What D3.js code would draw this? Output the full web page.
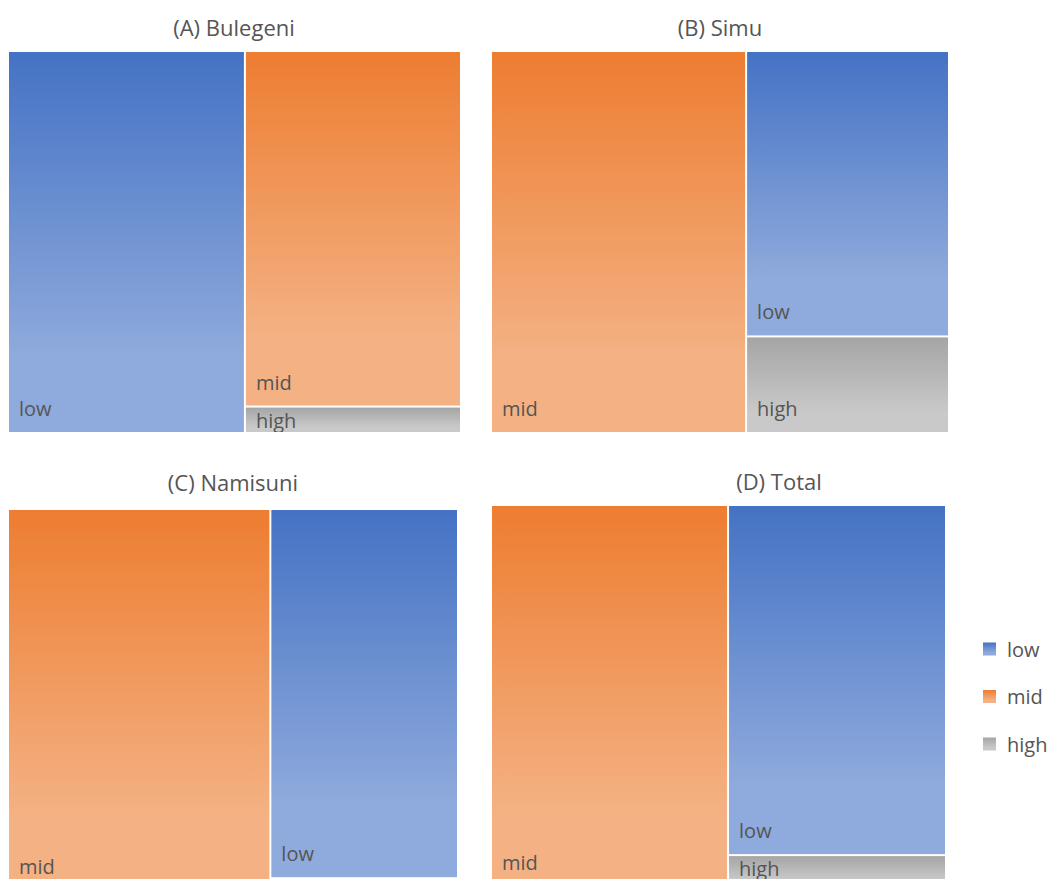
<!DOCTYPE html>
<html>
<head>
<meta charset="utf-8">
<script src="https://cdn.jsdelivr.net/npm/d3@7"></script>
<style>
  html, body { margin: 0; padding: 0; background: #fff; overflow: hidden; }
  svg { display: block; }
  text { font-family: "Open Sans", "Noto Sans", sans-serif; fill: #555555; }
</style>
</head>
<body>
<svg id="chart" width="1052" height="879"></svg>
<script>
// ---- data (percent share of each class) ----
const categories = ["low", "mid", "high"];
const panelTitles = ["(A) Bulegeni", "(B) Simu", "(C) Namisuni", "(D) Total"];
const bulegeni = [52.3, 44.4, 3.3];
const simu     = [33.1, 55.7, 11.2];
const namisuni = [40.3, 58.3, 1.4];
const total    = [43.9, 52.1, 4.0];
const panelValues = [bulegeni, simu, namisuni, total];

// ---- styling / layout ----
const colorTop    = { low: "#4472C4", mid: "#ED7D31", high: "#A5A5A5" };
const colorBottom = { low: "#8FAADC", mid: "#F4B183", high: "#C9C9C9" };
const panels = [
  { x: 9,   y: 52,  w: 451, h: 380, tx: 234, ty: 27 },
  { x: 492, y: 52,  w: 456, h: 380, tx: 720, ty: 27 },
  { x: 9,   y: 510, w: 448, h: 380, tx: 233, ty: 482 },
  { x: 492, y: 506, w: 453, h: 380, tx: 779, ty: 481 }
];

const svg = d3.select("#chart");
const defs = svg.append("defs");
categories.forEach(c => {
  const g = defs.append("linearGradient").attr("id", "grad-" + c)
    .attr("x1", 0).attr("y1", 0).attr("x2", 0).attr("y2", 1);
  g.append("stop").attr("offset", 0).attr("stop-color", colorTop[c]);
  g.append("stop").attr("offset", 0.8).attr("stop-color", colorBottom[c]);
  g.append("stop").attr("offset", 1).attr("stop-color", colorBottom[c]);
});

// tiling: largest item takes a full-height column, the rest are stacked in the remaining column
function columnThenStack(parent, x0, y0, x1, y1) {
  const kids = parent.children;
  if (!kids || !kids.length) return;
  const tot = parent.value;
  const first = kids[0];
  const xm = x0 + (x1 - x0) * first.value / tot;
  first.x0 = x0; first.x1 = xm; first.y0 = y0; first.y1 = y1;
  const rest = tot - first.value;
  let y = y0;
  kids.slice(1).forEach(k => {
    k.x0 = xm; k.x1 = x1; k.y0 = y;
    y += (y1 - y0) * k.value / rest;
    k.y1 = y;
  });
}

panels.forEach((p, i) => {
  const vals = panelValues[i];
  const data = { name: panelTitles[i], children: categories.map((c, j) => ({ name: c, value: vals[j] })) };
  const root = d3.hierarchy(data).sum(d => d.value || 0).sort((a, b) => b.value - a.value);
  d3.treemap().size([p.w, p.h]).paddingInner(2).tile(columnThenStack)(root);

  const g = svg.append("g").attr("transform", `translate(${p.x},${p.y})`);
  svg.append("text").attr("x", p.tx).attr("y", p.ty)
    .attr("text-anchor", "middle").attr("dominant-baseline", "central")
    .style("font-size", "22px").text(panelTitles[i]);

  root.leaves().forEach((leaf, j) => {
    const cid = `clip-${i}-${j}`;
    defs.append("clipPath").attr("id", cid).append("rect")
      .attr("x", p.x + leaf.x0).attr("y", p.y + leaf.y0)
      .attr("width", leaf.x1 - leaf.x0).attr("height", leaf.y1 - leaf.y0);
    g.append("rect")
      .attr("x", leaf.x0).attr("y", leaf.y0)
      .attr("width", leaf.x1 - leaf.x0).attr("height", leaf.y1 - leaf.y0)
      .attr("fill", `url(#grad-${leaf.data.name})`);
    const ty = Math.max(leaf.y1 - 16, leaf.y0 + 20);
    svg.append("text").attr("clip-path", `url(#${cid})`)
      .attr("x", p.x + leaf.x0 + 10).attr("y", p.y + ty)
      .style("font-size", "20px").text(leaf.data.name);
  });
});

// legend
const legendY = d3.scalePoint().domain(categories).range([649, 744]);
const lg = svg.append("g");
categories.forEach(c => {
  lg.append("rect").attr("x", 983).attr("y", legendY(c) - 6.5).attr("width", 13).attr("height", 13)
    .attr("fill", `url(#grad-${c})`);
  lg.append("text").attr("x", 1007).attr("y", legendY(c)).attr("dominant-baseline", "central")
    .style("font-size", "20px").text(c);
});
</script>
</body>
</html>
